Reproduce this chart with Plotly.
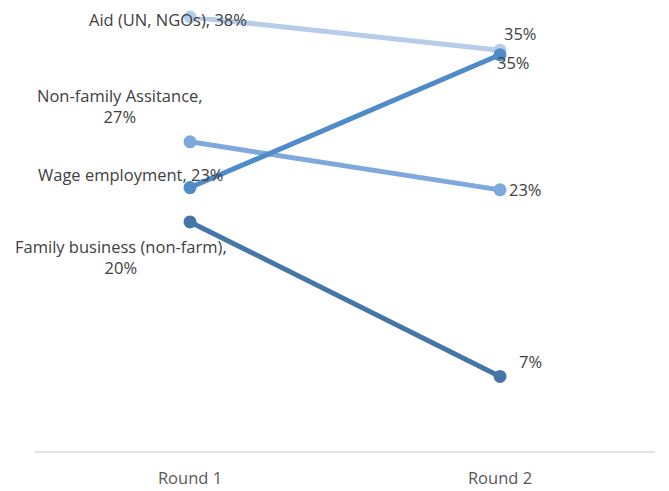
import plotly.graph_objects as go

rounds = ["Round 1", "Round 2"]
series_names = ["Aid (UN, NGOs)", "Non-family Assitance", "Wage employment", "Family business (non-farm)"]
round1 = [38.0, 27.1, 23.1, 20.1]
round2 = [35.1, 22.9, 34.7, 6.6]
round1_labels = ["Aid (UN, NGOs), 38%", "Non-family Assitance,<br>27%", "Wage employment, 23%", "Family business (non-farm),<br>20%"]
round2_labels = ["35%", "23%", "35%", "7%"]
colors = ["#B7CCE8", "#7FA8DC", "#4E8BC8", "#4675A8"]

# label offsets in pixels (style only)
r1_shift = [(-22, -2), (-70, 36), (-59, 13), (-69, -35)]
r2_shift = [(20, 17), (25, 0), (13, -8), (30, 15)]

fig = go.Figure()
for i, name in enumerate(series_names):
    fig.add_trace(go.Scatter(
        x=[0, 1], y=[round1[i], round2[i]], mode="lines+markers",
        line=dict(color=colors[i], width=5),
        marker=dict(color=colors[i], size=13),
        name=name, showlegend=False, cliponaxis=False, hoverinfo="skip"))

font = dict(family="Open Sans", size=16.5, color="#404040")
for i in range(len(series_names)):
    fig.add_annotation(x=0, y=round1[i], text=round1_labels[i], showarrow=False,
                       xshift=r1_shift[i][0], yshift=r1_shift[i][1], font=font, align="center")
    fig.add_annotation(x=1, y=round2[i], text=round2_labels[i], showarrow=False,
                       xshift=r2_shift[i][0], yshift=r2_shift[i][1], font=font, align="center")

# page body has an 8px margin; margins compensate so the plot area lands where the reference has it
fig.update_layout(
    width=669, height=491, margin=dict(l=27, r=22, t=9, b=47),
    paper_bgcolor="white", plot_bgcolor="white",
    xaxis=dict(range=[-0.5, 1.5], tickvals=[0, 1], ticktext=rounds, showgrid=False,
               zeroline=False, showline=False,
               tickfont=dict(family="Open Sans", size=16.5, color="#595959"),
               ticks="", ticklen=0, ticklabelstandoff=14),
    yaxis=dict(range=[0, 38], visible=False, showgrid=False, zeroline=False),
    shapes=[dict(type="line", xref="paper", yref="paper", x0=0, x1=1, y0=0, y1=0,
                 line=dict(color="#D9D9D9", width=1.5))],
)
fig.write_html("out.html")
